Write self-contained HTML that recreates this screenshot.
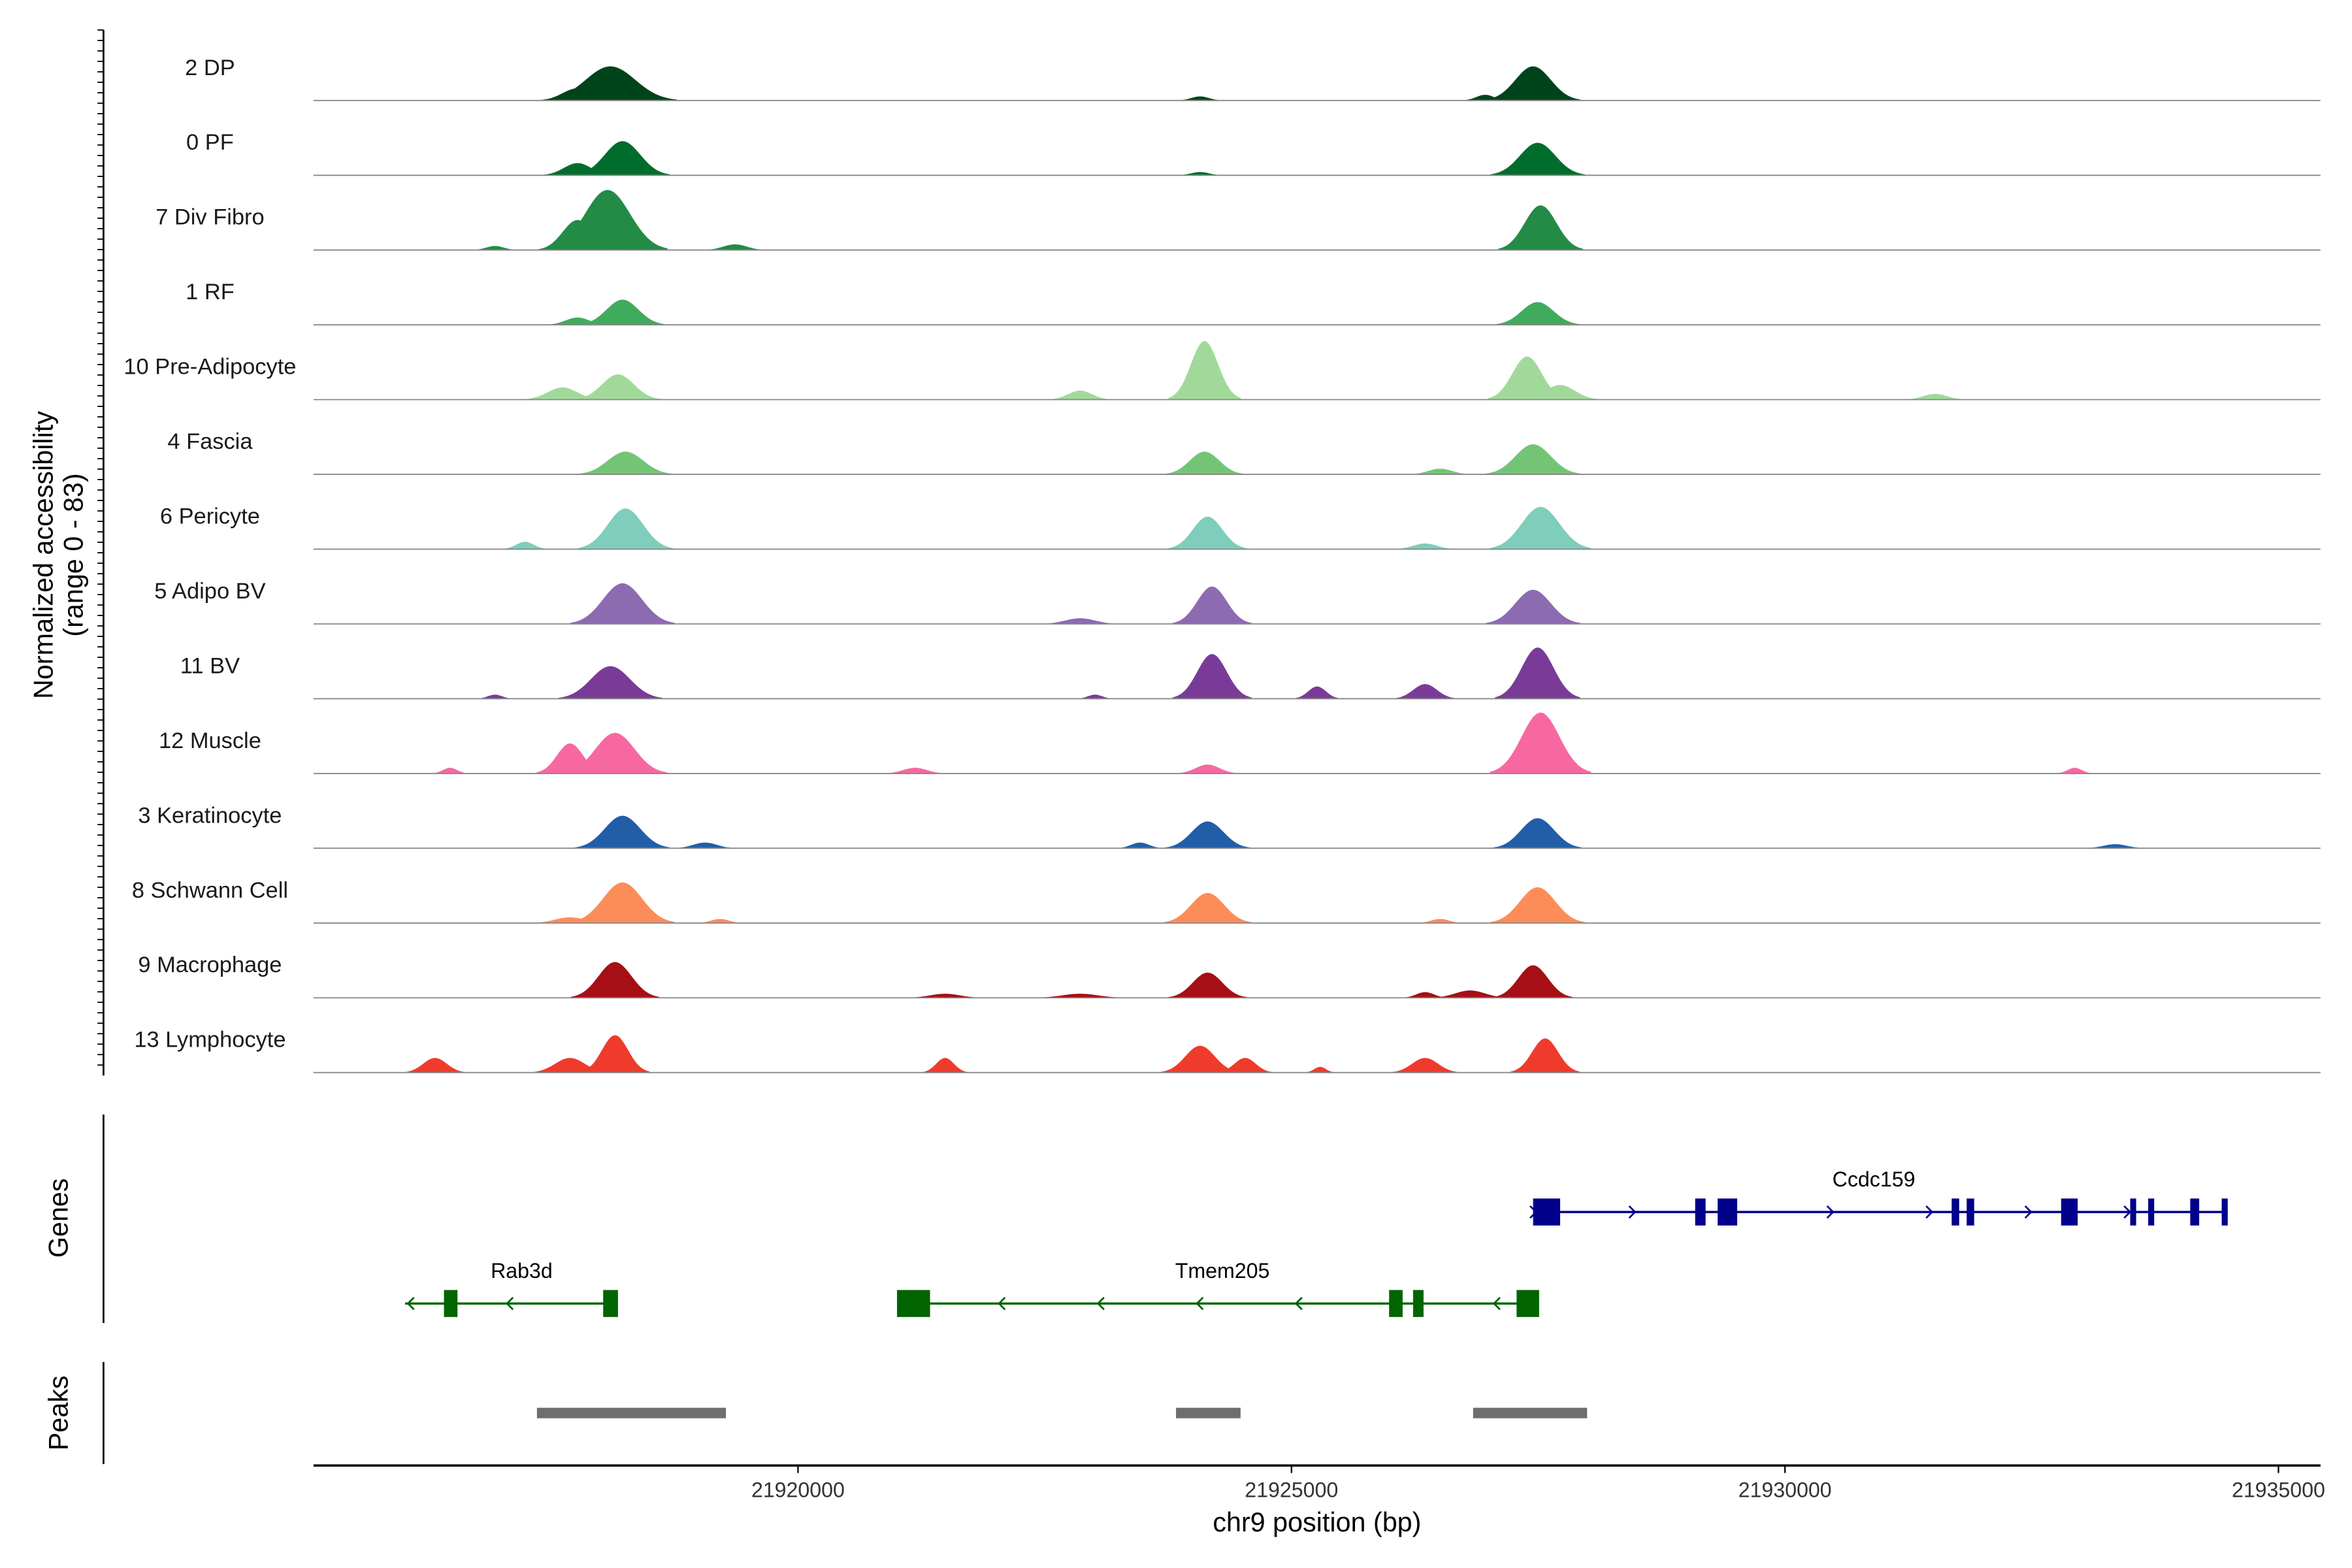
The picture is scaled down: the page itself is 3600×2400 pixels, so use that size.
<!DOCTYPE html>
<html><head><meta charset="utf-8"><style>
html,body{margin:0;padding:0;background:#fff;}
svg{display:block;font-family:"Liberation Sans",Arial,sans-serif;}
</style></head><body>
<svg id="chart" width="3600" height="2400" viewBox="0 0 1568 1045.33" preserveAspectRatio="none" xmlns="http://www.w3.org/2000/svg">
<g id="tracks"></g>
<g id="genes"></g>
<g id="peaks"></g>
<g id="axes"></g>
</svg>
<script>
const trackNames=["2 DP","0 PF","7 Div Fibro","1 RF","10 Pre-Adipocyte","4 Fascia","6 Pericyte","5 Adipo BV","11 BV","12 Muscle","3 Keratinocyte","8 Schwann Cell","9 Macrophage","13 Lymphocyte"];
const trackColors=["#00441b","#006d2c","#238b45","#41ab5d","#a1d99b","#74c476","#7fcdbb","#8c6bb1","#7a3b98","#f768a1","#225ea8","#fc8d59","#a50f15","#ef3b2c"];
// peaks per track: [center bp, value (0-83), half-width bp]
const trackPeaks=[
[[21918100,42,420],[21917766,15,250],[21927448,42,300],[21924074,5,150],[21926962,7,150]],
[[21918222,42,300],[21917766,15,230],[21927494,40,300],[21924074,4,150]],
[[21918070,74,380],[21917766,37,250],[21927524,55,270],[21919362,7,200],[21916930,5,150]],
[[21918222,31,270],[21917766,9,200],[21927494,28,270]],
[[21924119,72,230],[21918176,31,270],[21917614,15,250],[21927387,53,250],[21927722,18,250],[21922858,11,200],[21931522,7,200]],
[[21918252,28,300],[21924119,28,250],[21927448,37,300],[21926506,7,200]],
[[21918252,50,300],[21924150,40,250],[21927524,52,320],[21917234,9,150],[21926354,7,200]],
[[21918222,50,330],[21924195,46,250],[21927448,42,300],[21922858,7,250]],
[[21918100,40,330],[21924195,55,250],[21927494,63,270],[21926354,18,200],[21925259,15,150],[21923010,5,120],[21916930,5,120]],
[[21918146,50,330],[21917690,37,220],[21927524,75,320],[21924150,11,200],[21916474,7,120],[21921186,7,200],[21932935,7,120]],
[[21918222,40,300],[21924150,33,270],[21927494,37,280],[21919058,7,200],[21923466,7,150],[21933346,5,200]],
[[21918222,50,330],[21924150,37,280],[21927494,44,300],[21917690,7,250],[21926506,5,150],[21919210,5,150]],
[[21918146,44,280],[21924150,31,250],[21927448,40,250],[21926354,7,150],[21926810,9,250],[21922858,5,300],[21921490,5,250]],
[[21918146,46,220],[21917690,18,250],[21916322,18,200],[21921490,18,150],[21924074,33,250],[21924530,18,180],[21926354,18,220],[21927570,42,220],[21925290,7,100]]
];
const xTicks=[21920000,21925000,21930000,21935000];
const geneNames=["Ccdc159","Rab3d","Tmem205"];
const geneSpans=[[21927448,21934486],[21916018,21918176],[21921003,21927509]];
const geneExons=[
[[21927448,21927722],[21929090,21929196],[21929318,21929516],[21931689,21931765],[21931841,21931917],[21932798,21932966],[21933498,21933558],[21933680,21933741],[21934106,21934197],[21934425,21934486]],
[[21916413,21916550],[21918026,21918176]],
[[21921003,21921338],[21925989,21926126],[21926232,21926338],[21927281,21927509]]
];
const geneStrand=[1,-1,-1];
const geneLabelPos=[21930900,21917200,21924300];
const peakRegions=[[21917355,21919270],[21923830,21924484],[21926840,21927995]];

const NS="http://www.w3.org/2000/svg";
function mk(tag,attrs,parent){const e=document.createElementNS(NS,tag);for(const k in attrs)e.setAttribute(k,attrs[k]);parent.appendChild(e);return e;}
const X0=209,X1=1547,BP0=21915091,BP1=21935426;
function xs(bp){return X0+(bp-BP0)/(BP1-BP0)*(X1-X0);}
const maxV=83,trackH=45,base0=67,step=49.85;
function ys(v,i){return base0+i*step-v/maxV*trackH;}

const tg=document.getElementById('tracks');
trackNames.forEach((name,i)=>{
  const b=base0+i*step;
  const g=mk('g',{},tg);
  
  
  trackPeaks[i].forEach(p=>{
    let pts=[];const c=p[0],h=p[1],w=p[2];
    for(let k=-20;k<=20;k++){const d=k/20;const bp=c+d*w*1.6;const v=h*Math.exp(-Math.pow(d*1.6/ (w/w) ,2)*1.4);pts.push(xs(bp).toFixed(2)+','+ys(v,i).toFixed(2));}
    const poly=mk('polygon',{points:xs(c-w*1.6).toFixed(2)+','+b+' '+pts.join(' ')+' '+xs(c+w*1.6).toFixed(2)+','+b,fill:trackColors[i]},g);
    
    
  });
  const ln=mk('line',{x1:X0,x2:X1,y1:b,y2:b,stroke:'#888','stroke-width':0.8},g);
  
  
  const t=mk('text',{x:140,y:b-17,'text-anchor':'middle','font-size':15,fill:'#1a1a1a'},g);
  t.textContent=name;
  
  
});

const gg=document.getElementById('genes');
const gy=[808,869];
geneNames.forEach((name,i)=>{
  const col=i===0?'#00008b':'#006400';
  const y=i===0?808:869;
  const g=mk('g',{},gg);
  
  
  mk('line',{x1:xs(geneSpans[i][0]),x2:xs(geneSpans[i][1]),y1:y,y2:y,stroke:col,'stroke-width':1.5},g);
  geneExons[i].forEach(e=>{
    const r=mk('rect',{x:xs(e[0]),y:y-9,width:Math.max(2,xs(e[1])-xs(e[0])),height:18,fill:col},g);
    
    
  });
  const a=xs(geneSpans[i][0]),bb=xs(geneSpans[i][1]);
  for(let x=a+2;x<=bb;x+=66){
    const s=geneStrand[i];
    mk('polyline',{points:(x-4*s)+','+(y-4)+' '+x+','+y+' '+(x-4*s)+','+(y+4),fill:'none',stroke:col,'stroke-width':1.2},g);
  }
  const t=mk('text',{x:xs(geneLabelPos[i]),y:y-17,'text-anchor':'middle','font-size':14,fill:'#000'},g);
  t.textContent=name;
  
  
});

const pg=document.getElementById('peaks');
peakRegions.forEach(p=>{
  const r=mk('rect',{x:xs(p[0]),y:938.5,width:xs(p[1])-xs(p[0]),height:7,fill:'#6e6e6e'},pg);
  
  
});

const ax=document.getElementById('axes');
mk('line',{x1:69,x2:69,y1:20,y2:717,stroke:'#000','stroke-width':1.2},ax);
for(let y=20;y<=717;y+=6.97){mk('line',{x1:65,x2:69,y1:y,y2:y,stroke:'#000','stroke-width':0.8},ax);}
mk('line',{x1:69,x2:69,y1:743,y2:882,stroke:'#000','stroke-width':1.2},ax);
mk('line',{x1:69,x2:69,y1:908,y2:976,stroke:'#000','stroke-width':1.2},ax);
const xl=mk('line',{x1:X0,x2:X1,y1:977,y2:977,stroke:'#000','stroke-width':1.5},ax);


xTicks.forEach(v=>{
  const x=xs(v);
  mk('line',{x1:x,x2:x,y1:977,y2:982,stroke:'#000','stroke-width':1},ax);
  const t=mk('text',{x:x,y:998,'text-anchor':'middle','font-size':14,fill:'#333'},ax);
  t.textContent=v;
  
  
});
</script>
<svg style="position:absolute;left:0;top:0" width="3600" height="2400" viewBox="0 0 1568 1045.33" preserveAspectRatio="none" xmlns="http://www.w3.org/2000/svg" font-family="Liberation Sans, Arial, sans-serif">
<text transform="translate(35,370) rotate(-90)" text-anchor="middle" font-size="18">Normalized accessibility</text>
<text transform="translate(55,370) rotate(-90)" text-anchor="middle" font-size="18">(range 0 - 83)</text>
<text transform="translate(45,812) rotate(-90)" text-anchor="middle" font-size="18">Genes</text>
<text transform="translate(45,942) rotate(-90)" text-anchor="middle" font-size="18">Peaks</text>
<text x="878" y="1021" text-anchor="middle" font-size="18">chr9 position (bp)</text>
</svg>
</body></html>
